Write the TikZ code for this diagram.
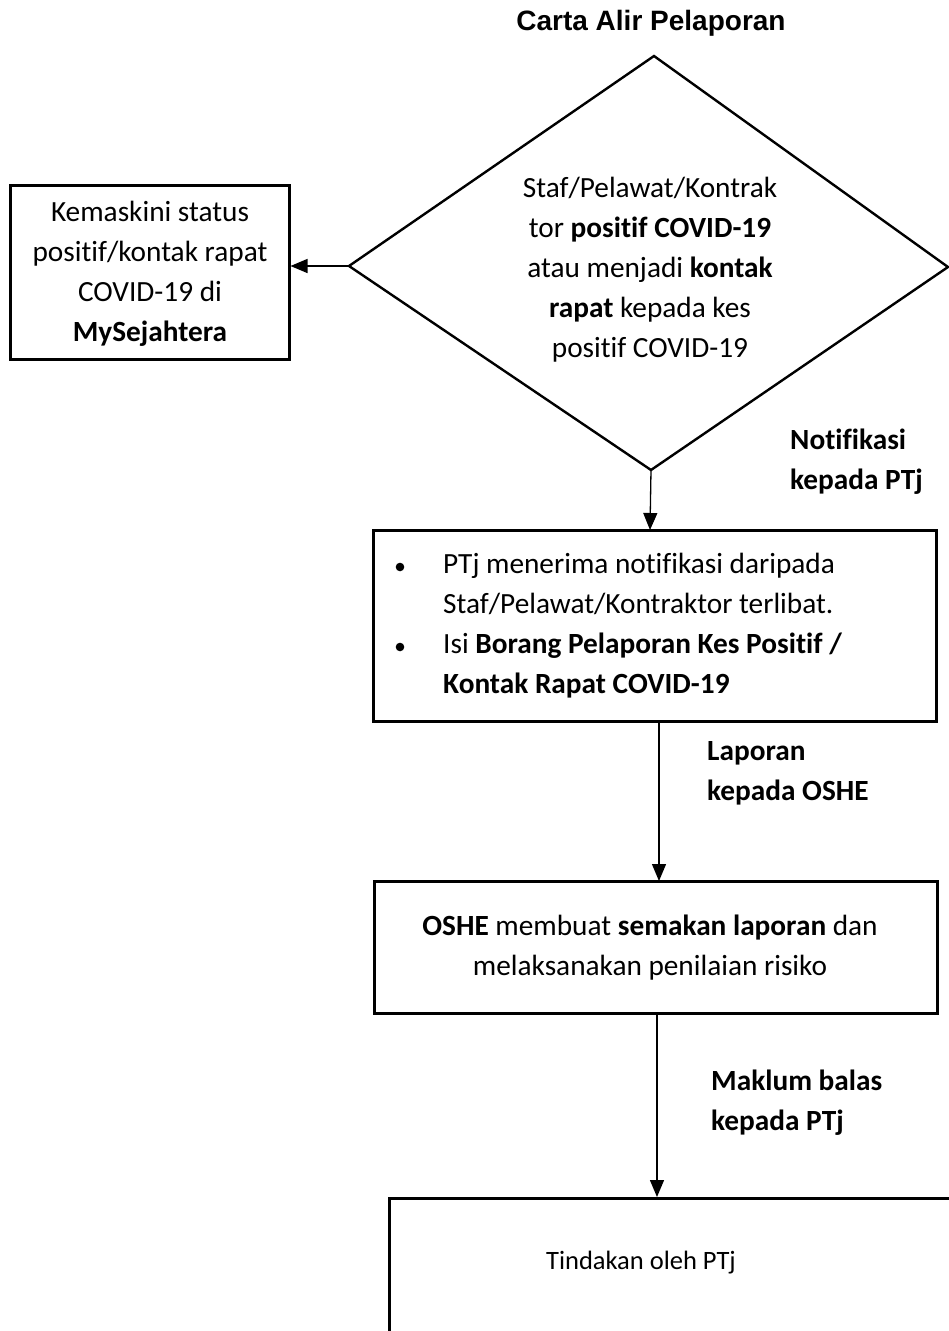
\documentclass[tikz,border=0pt]{standalone}
\usepackage{fontspec}
\setmainfont{Carlito}[Ligatures=NoCommon]
\newfontfamily\titlefont{Liberation Sans}
\usetikzlibrary{arrows.meta}
\tikzset{
  body/.style={font=\fontsize{29.3}{40}\selectfont, align=center, inner sep=0pt},
  lbl/.style={font=\fontsize{29.3}{40}\selectfont\bfseries, align=left, anchor=west, inner sep=0pt},
  boxshape/.style={draw, line width=3pt, inner sep=0pt},
  conn/.style={-{Triangle[width=14pt,length=17pt]}, line width=1.3pt},
}
\begin{document}
\begin{tikzpicture}[x=1pt,y=-1pt]
\useasboundingbox (0,0) rectangle (949,1331);
\clip (0,0) rectangle (949,1331);
% title
\node[font=\titlefont\bfseries\fontsize{28}{32}\selectfont, inner sep=0pt] (title) at (651,23) {Carta Alir Pelaporan};
% diamond
\coordinate (dt) at (654,56);
\coordinate (dl) at (349,266);
\coordinate (dr) at (948,267);
\coordinate (db) at (651,470);
\draw[line width=2.4pt, line join=miter] (dt) -- (dr) -- (db) -- (dl) -- cycle;
\node[body] (dtext) at (650,270) {Staf/Pelawat/Kontrak\\tor \textbf{positif COVID-19}\\atau menjadi \textbf{kontak}\\\textbf{rapat} kepada kes\\positif COVID-19};
% left box
\node[boxshape, minimum width=279pt, minimum height=174pt] (b1) at (149.5,272) {};
\node[body] (b1text) at (150,274) {Kemaskini status\\positif/kontak rapat\\COVID-19 di\\\textbf{MySejahtera}};
\draw[conn] (dl) -- (dl -| b1.east);
% box 2
\node[boxshape, minimum width=563pt, minimum height=191pt] (b2) at (654.5,625.5) {};
\coordinate (b2in) at (650,530);
\draw[conn] (db) -- (b2in);
\fill (400,567) circle (4.3pt);
\fill (400,647) circle (4.3pt);
\node[lbl] (b2text) at (443,625.5) {\mdseries PTj menerima notifikasi daripada\\\mdseries Staf/Pelawat/Kontraktor terlibat.\\\mdseries Isi \textbf{Borang Pelaporan Kes Positif /}\\Kontak Rapat COVID-19};
\node[lbl] (l1) at (790,462) {Notifikasi\\kepada PTj};
% box 3
\node[boxshape, minimum width=563pt, minimum height=132pt] (b3) at (655.5,947) {};
\coordinate (b2out) at (659,721);
\coordinate (b3in) at (659,881);
\draw[conn] (b2out) -- (b3in);
\node[body] (b3text) at (650,948) {\textbf{OSHE} membuat \textbf{semakan laporan} dan\\melaksanakan penilaian risiko};
\node[lbl] (l2) at (707,773) {Laporan\\kepada OSHE};
% box 4
\node[boxshape, minimum width=600pt, minimum height=200pt, anchor=north west] (b4) at (388,1197) {};
\coordinate (b3out) at (657,1013);
\coordinate (b4in) at (657,1197);
\draw[conn] (b3out) -- (b4in);
\node[body, font=\fontsize{26.5}{36}\selectfont] (b4text) at (641,1263) {Tindakan oleh PTj};
\node[lbl] (l3) at (711,1103) {Maklum balas\\kepada PTj};
\end{tikzpicture}
\end{document}
